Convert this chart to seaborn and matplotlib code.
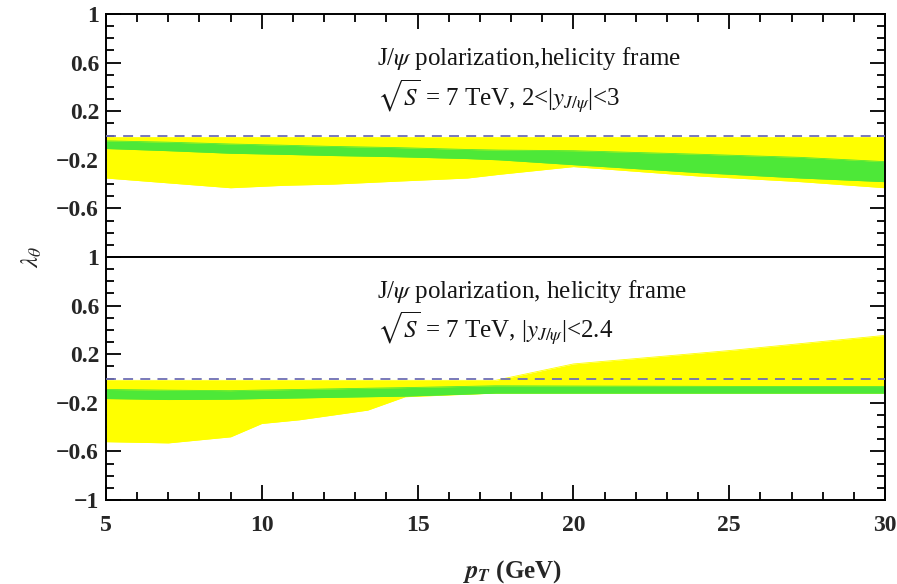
import numpy as np
import pandas as pd
import matplotlib
matplotlib.use("Agg")
import matplotlib.pyplot as plt
import seaborn as sns
from matplotlib.ticker import MultipleLocator, FixedLocator, FixedFormatter

# ---------------- data ----------------
# upper panel: 2<|y|<3
pt_top = [5, 7, 9, 10.7, 12.3, 14.4, 16.6, 17.6, 20, 24, 27.3, 30]
top_yellow_lo = [-0.35, -0.39, -0.43, -0.41, -0.40, -0.375, -0.35, -0.32, -0.256, -0.333, -0.38, -0.43]
top_yellow_hi = [-0.015, -0.015, -0.015, -0.015, -0.015, -0.015, -0.015, -0.015, -0.015, -0.015, -0.015, -0.015]
top_green_lo = [-0.107, -0.125, -0.146, -0.155, -0.165, -0.175, -0.19, -0.20, -0.24, -0.305, -0.35, -0.38]
top_green_hi = [-0.044, -0.055, -0.07, -0.08, -0.09, -0.10, -0.115, -0.12, -0.125, -0.154, -0.18, -0.215]

# lower panel: |y|<2.4
pt_bot = [5, 7, 9, 10, 11.2, 13.4, 14.6, 17.5, 20, 25, 30]
bot_yellow_lo = [-0.52, -0.53, -0.48, -0.37, -0.34, -0.26, -0.15, -0.12, -0.12, -0.12, -0.12]
bot_yellow_hi = [-0.015, -0.015, -0.015, -0.015, -0.015, -0.015, -0.015, -0.015, 0.12, 0.23, 0.355]
bot_green_lo = [-0.165, -0.173, -0.17, -0.165, -0.16, -0.15, -0.145, -0.12, -0.12, -0.12, -0.12]
bot_green_hi = [-0.09, -0.096, -0.10, -0.095, -0.09, -0.08, -0.075, -0.06, -0.062, -0.065, -0.066]

x_ticks = [5, 10, 15, 20, 25, 30]
y_ticks = [-1, -0.6, -0.2, 0.2, 0.6, 1]
y_labels_top = ["", "\u22120.6", "\u22120.2", "0.2", "0.6", "1"]
y_labels_bot = ["\u22121", "\u22120.6", "\u22120.2", "0.2", "0.6", "1"]

title_top = ["J/$\\psi$ polarization,helicity frame",
             "$\\sqrt{S}$ = 7 TeV, 2<|$y_{J/\\psi}$|<3"]
title_bot = ["J/$\\psi$ polarization, helicity frame",
             "$\\sqrt{S}$ = 7 TeV, |$y_{J/\\psi}$|<2.4"]

YEL = "#FFFF00"
GRN = "#4DE838"
DASH = "#6E6EB4"

# ---------------- style ----------------
sns.set_theme(style="ticks")
plt.rcParams["font.family"] = ["Liberation Serif", "DejaVu Serif"]
plt.rcParams["mathtext.fontset"] = "stix"

fig = plt.figure(figsize=(8.97, 5.84), dpi=100)
ax1 = fig.add_axes([0.1182, 0.5599, 0.8684, 0.4161])
ax2 = fig.add_axes([0.1182, 0.1438, 0.8684, 0.4161])


def draw(ax, pt, ylo, yhi, glo, ghi, texts, text_y):
    df = pd.DataFrame({"pt": pt, "ylo": ylo, "yhi": yhi, "glo": glo, "ghi": ghi})
    ax.fill_between(df["pt"], df["ylo"], df["yhi"], color=YEL, lw=0, zorder=1)
    for c in ["ylo", "yhi"]:
        sns.lineplot(data=df, x="pt", y=c, ax=ax, color=YEL, lw=0.6, zorder=1.5)
    ax.fill_between(df["pt"], df["glo"], df["ghi"], color=GRN, lw=0, zorder=2)
    for c in ["glo", "ghi"]:
        sns.lineplot(data=df, x="pt", y=c, ax=ax, color=GRN, lw=0.6, zorder=2.5)
    ax.axhline(0, color=DASH, lw=1.3, ls=(0, (5.5, 4.0)), zorder=3)
    ax.set_xlim(5, 30)
    ax.set_ylim(-1, 1)
    ax.set_xlabel("")
    ax.set_ylabel("")
    for sp in ax.spines.values():
        sp.set_visible(True)
        sp.set_linewidth(1.4)
        sp.set_color("black")
    ax.yaxis.set_major_locator(FixedLocator(y_ticks))
    ax.yaxis.set_minor_locator(MultipleLocator(0.1))
    ax.xaxis.set_major_locator(FixedLocator(x_ticks))
    ax.xaxis.set_minor_locator(MultipleLocator(1))
    ax.tick_params(which="both", direction="in", width=1.3, color="black",
                   left=True, right=True, labelsize=17, pad=5)
    ax.tick_params(which="major", length=10.5)
    ax.tick_params(which="minor", length=5.5)
    for t, yy in zip(texts, text_y):
        ax.text(13.7, yy, t, fontsize=18, color="#151515", va="center", ha="left")


draw(ax1, pt_top, top_yellow_lo, top_yellow_hi, top_green_lo, top_green_hi,
     title_top, [0.63, 0.32])
draw(ax2, pt_bot, bot_yellow_lo, bot_yellow_hi, bot_green_lo, bot_green_hi,
     title_bot, [0.72, 0.41])

ax1.tick_params(axis="x", which="both", top=True, bottom=False, labelbottom=False)
ax2.tick_params(axis="x", which="both", top=False, bottom=True, labelbottom=True, pad=11)
ax1.yaxis.set_major_formatter(FixedFormatter(y_labels_top))
ax2.yaxis.set_major_formatter(FixedFormatter(y_labels_bot))
for ax in (ax1, ax2):
    for lab in ax.get_xticklabels() + ax.get_yticklabels():
        lab.set_fontweight("bold")

fig.text(0.571, 0.022, "$\\mathbfit{p}_{\\mathbfit{T}}$ (GeV)", fontsize=18, fontweight="bold",
         ha="center", va="center")
fig.text(0.035, 0.56, "$\\lambda_\\theta$", fontsize=18, rotation=90,
         ha="center", va="center")

fig.savefig("out.png", dpi=100)
